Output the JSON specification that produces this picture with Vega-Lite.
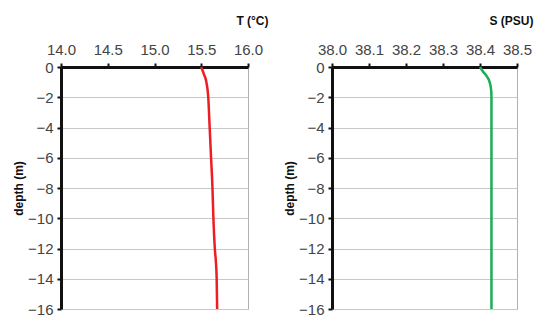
{
  "$schema": "https://vega.github.io/schema/vega-lite/v6.json",
  "background": "white",
  "padding": {"left": 12, "top": 13, "right": 0, "bottom": 5},
  "bounds": "flush",
  "spacing": 84,
  "config": {
    "font": "Liberation Sans",
    "view": {"stroke": "#b0b0b0", "strokeWidth": 1},
    "axis": {
      "labelFont": "Liberation Sans",
      "labelFontSize": 15,
      "labelColor": "#444444",
      "labelOverlap": false,
      "labelFlush": false,
      "titleFont": "Liberation Sans",
      "titleFontSize": 12,
      "titleFontWeight": "bold",
      "titleColor": "#111111",
      "domainColor": "#111111",
      "domainWidth": 3,
      "tickColor": "#111111",
      "tickWidth": 2,
      "tickSize": 4
    }
  },
  "datasets": {
    "temp": [
      {"depth": 0, "T": 15.50},
      {"depth": -0.5, "T": 15.53},
      {"depth": -1, "T": 15.555},
      {"depth": -2, "T": 15.575},
      {"depth": -4, "T": 15.59},
      {"depth": -6, "T": 15.605},
      {"depth": -8, "T": 15.62},
      {"depth": -10, "T": 15.63},
      {"depth": -12, "T": 15.645},
      {"depth": -13, "T": 15.658},
      {"depth": -14, "T": 15.665},
      {"depth": -16, "T": 15.67}
    ],
    "sal": [
      {"depth": 0, "S": 38.400},
      {"depth": -0.3, "S": 38.408},
      {"depth": -0.6, "S": 38.418},
      {"depth": -1, "S": 38.426},
      {"depth": -1.5, "S": 38.430},
      {"depth": -2, "S": 38.431},
      {"depth": -4, "S": 38.431},
      {"depth": -8, "S": 38.431},
      {"depth": -12, "S": 38.431},
      {"depth": -16, "S": 38.431}
    ]
  },
  "hconcat": [
    {
      "width": 187,
      "height": 242,
      "data": {"name": "temp"},
      "mark": {"type": "line", "color": "#ee1c25", "strokeWidth": 2.5, "interpolate": "monotone"},
      "encoding": {
        "order": {"field": "depth", "type": "quantitative", "sort": "descending"},
        "x": {
          "field": "T", "type": "quantitative",
          "scale": {"domain": [14, 16], "nice": false, "zero": false},
          "axis": {
            "orient": "top", "title": "T (°C)", "values": [14, 14.5, 15, 15.5, 16],
            "format": ".1f", "grid": false, "labelPadding": 6,
            "titleAnchor": "end", "titleAlign": "right", "titleX": 207, "titlePadding": 15
          }
        },
        "y": {
          "field": "depth", "type": "quantitative",
          "scale": {"domain": [-16, 0], "nice": false},
          "axis": {
            "title": "depth (m)", "values": [0, -2, -4, -6, -8, -10, -12, -14, -16],
            "grid": true, "gridColor": "#c8c8c8", "gridWidth": 1,
            "labelPadding": 4, "titlePadding": 2
          }
        }
      }
    },
    {
      "width": 185,
      "height": 242,
      "data": {"name": "sal"},
      "mark": {"type": "line", "color": "#1aae55", "strokeWidth": 2.5, "interpolate": "monotone"},
      "encoding": {
        "order": {"field": "depth", "type": "quantitative", "sort": "descending"},
        "x": {
          "field": "S", "type": "quantitative",
          "scale": {"domain": [38, 38.5], "nice": false, "zero": false},
          "axis": {
            "orient": "top", "title": "S (PSU)", "values": [38.0, 38.1, 38.2, 38.3, 38.4, 38.5],
            "format": ".1f", "grid": false, "labelPadding": 6,
            "titleAnchor": "end", "titleAlign": "right", "titleX": 201, "titlePadding": 15
          }
        },
        "y": {
          "field": "depth", "type": "quantitative",
          "scale": {"domain": [-16, 0], "nice": false},
          "axis": {
            "title": "depth (m)", "values": [0, -2, -4, -6, -8, -10, -12, -14, -16],
            "grid": true, "gridColor": "#c8c8c8", "gridWidth": 1,
            "labelPadding": 4, "titlePadding": 2
          }
        }
      }
    }
  ]
}
